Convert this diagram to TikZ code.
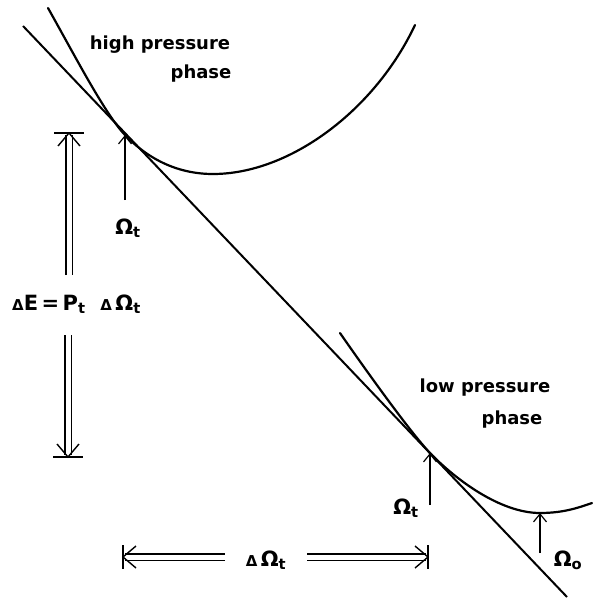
\documentclass[tikz,border=0pt]{standalone}
\usepackage{fontspec}
\setmainfont{DejaVu Sans}
\usetikzlibrary{arrows.meta,calc}
\tikzset{
  curva/.style={line width=2.2pt,line cap=round},
  tangente/.style={line width=2pt},
  flecha/.style={line width=1.2pt,-{Straight Barb[length=8pt,width=13pt]}},
  doble/.style={double,double distance=5pt,line width=1.1pt},
  barra/.style={line width=1.4pt},
  rotulo/.style={font=\fontsize{18}{21}\selectfont\bfseries,inner sep=0pt},
  simbolo/.style={font=\fontsize{21}{24}\selectfont\bfseries,inner sep=0pt}
}
\newcommand{\dlt}{{\fontsize{15}{15}\selectfont Δ}}

\begin{document}
\begin{tikzpicture}[x=1pt,y=-1pt]
\useasboundingbox (0,0) rectangle (592,599);
% puntos de contacto y minimos
\coordinate (ta) at (125,135);
\coordinate (tb) at (430,453);
\coordinate (mb) at (540,513);
% tangente comun
\coordinate (la) at (23,26);
\coordinate (lb) at (567,597);
\draw[tangente] (la) -- (lb);
% fase de alta presion
\draw[curva] (48,8) .. controls (75,56) and (105,114) .. (ta)
  .. controls (150,161) and (180,174) .. (213,174)
  .. controls (290,174) and (375,110) .. (415,25);
% fase de baja presion
\draw[curva] (340,333) .. controls (365,369) and (410,432) .. (tb)
  .. controls (455,479) and (500,513) .. (mb)
  .. controls (565,513) and (580,507) .. (592,503);
\node[rotulo] (alta) at (160,45) {high pressure};
\node[rotulo] (altaf) at (201,74) {phase};
\node[rotulo] (baja) at (485,388) {low pressure};
\node[rotulo] (bajaf) at (512,420) {phase};
% flechas simples
\draw[flecha] ($(ta)+(0,65)$) -- (ta);
\node[simbolo] (wa) at (128,228) {Ω\textsubscript{t}};
\draw[flecha] ($(tb)+(0,52)$) -- (tb);
\node[simbolo] (wb) at (406,508) {Ω\textsubscript{t}};
\draw[flecha] ($(mb)+(0,40)$) -- (mb);
\node[simbolo] (wo) at (568,560) {Ω\textsubscript{o}};
% flechas dobles verticales
\coordinate (ea) at (69,133);
\coordinate (eb) at (69,275);
\coordinate (ec) at (68,335);
\coordinate (ed) at (68,457);
\draw[doble] (eb) -- ($(ea)+(0,2)$);
\draw[barra] ($(ea)+(-11,13)$) -- (ea) -- ($(ea)+(11,13)$);
\draw[barra] ($(ea)+(-15,0)$) -- ($(ea)+(15,0)$);
\draw[doble] (ec) -- ($(ed)+(0,-2)$);
\draw[barra] ($(ed)+(-11,-13)$) -- (ed) -- ($(ed)+(11,-13)$);
\draw[barra] ($(ed)+(-15,0)$) -- ($(ed)+(15,0)$);
\node[simbolo,anchor=west] (de) at (12,304) {\dlt E\,=\,P\textsubscript{t}\ \ \dlt\,Ω\textsubscript{t}};
% flechas dobles horizontales
\coordinate (ha) at (123,557);
\coordinate (hb) at (225,557);
\coordinate (hc) at (307,557);
\coordinate (hd) at (428,557);
\draw[doble] (hb) -- ($(ha)+(2,0)$);
\draw[barra] ($(ha)+(13,-11)$) -- (ha) -- ($(ha)+(13,11)$);
\draw[barra] ($(ha)+(0,-12)$) -- ($(ha)+(0,12)$);
\draw[doble] (hc) -- ($(hd)+(-2,0)$);
\draw[barra] ($(hd)+(-13,-11)$) -- (hd) -- ($(hd)+(-13,11)$);
\draw[barra] ($(hd)+(0,-12)$) -- ($(hd)+(0,12)$);
\node[simbolo] (dw) at (266,560) {\dlt\,Ω\textsubscript{t}};
\end{tikzpicture}
\end{document}
